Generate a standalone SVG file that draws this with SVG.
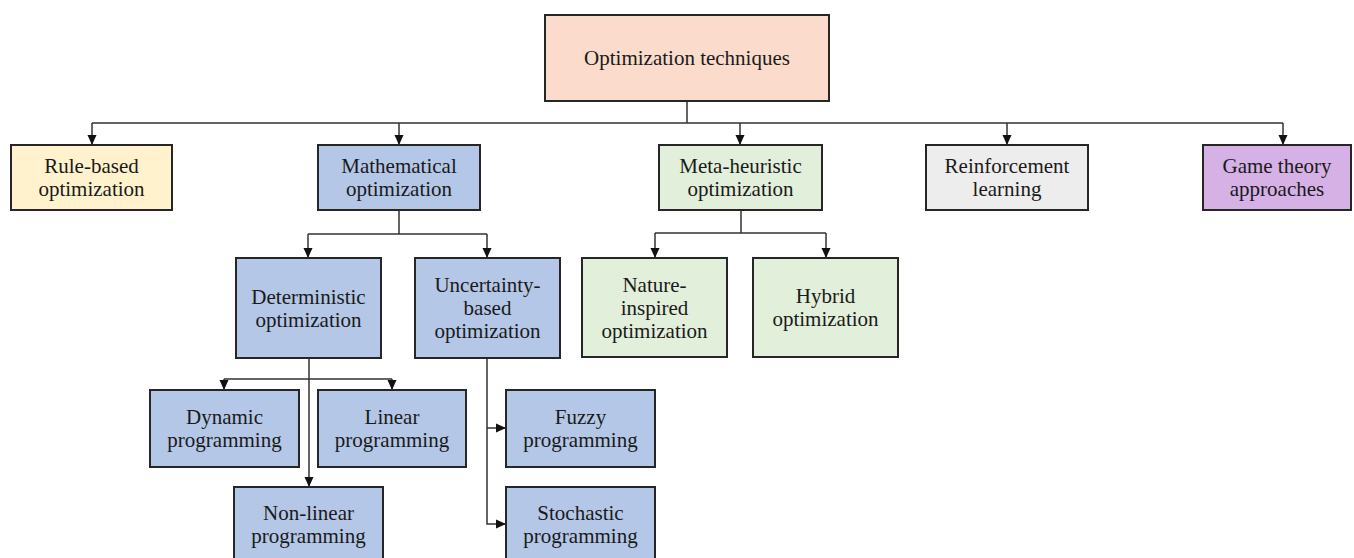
<svg xmlns="http://www.w3.org/2000/svg" width="1354" height="558" viewBox="0 0 1354 558">
<defs>
<style>
.b{stroke:#262626;stroke-width:2}
.t{font-family:"Liberation Serif","DejaVu Serif",serif;font-size:21px;fill:#1a1a1a;text-anchor:middle}
.c{fill:none;stroke:#333;stroke-width:1.5}
.pe{fill:#fbdccc}.ye{fill:#fff2cc}.bl{fill:#b4c7e7}.gr{fill:#e2efda}.gy{fill:#ededed}.pu{fill:#d5b1e6}
</style>
<marker id="a" markerUnits="userSpaceOnUse" markerWidth="10" markerHeight="10" viewBox="0 0 10 10" refX="10" refY="5" orient="auto"><path d="M0,0.5 L10,5 L0,9.5 Z" fill="#111"/></marker>
</defs>
<rect width="1354" height="558" fill="#fff"/>
<g id="connectors" class="c">
<path d="M687,101 V123 M92,123 H1283 M399,210 V234 M308,234 H487 M741,210 V233 M655,233 H826 M224,379 H392 M487,358 V428"/>
<path d="M92,123 V145" marker-end="url(#a)"/>
<path d="M399,123 V145" marker-end="url(#a)"/>
<path d="M740,123 V145" marker-end="url(#a)"/>
<path d="M1007,123 V145" marker-end="url(#a)"/>
<path d="M1283,123 V145" marker-end="url(#a)"/>
<path d="M308,234 V258" marker-end="url(#a)"/>
<path d="M487,234 V258" marker-end="url(#a)"/>
<path d="M655,233 V258" marker-end="url(#a)"/>
<path d="M826,233 V258" marker-end="url(#a)"/>
<path d="M309,358 V487" marker-end="url(#a)"/>
<path d="M224,379 V390" marker-end="url(#a)"/>
<path d="M392,379 V390" marker-end="url(#a)"/>
<path d="M487,428 H506" marker-end="url(#a)"/>
<path d="M487,428 V524 H506" marker-end="url(#a)"/>
</g>
<g id="root"><rect class="b pe" x="545" y="15" width="284" height="86"/><text class="t" x="687" y="65">Optimization techniques</text></g>
<g id="rule"><rect class="b ye" x="11" y="145" width="161" height="65"/><text class="t" x="91.5" y="173">Rule-based</text><text class="t" x="91.5" y="196">optimization</text></g>
<g id="math"><rect class="b bl" x="318" y="145" width="162" height="65"/><text class="t" x="399" y="173">Mathematical</text><text class="t" x="399" y="196">optimization</text></g>
<g id="meta"><rect class="b gr" x="659" y="145" width="163" height="65"/><text class="t" x="740.5" y="173">Meta-heuristic</text><text class="t" x="740.5" y="196">optimization</text></g>
<g id="reinf"><rect class="b gy" x="926" y="145" width="162" height="65"/><text class="t" x="1007" y="173">Reinforcement</text><text class="t" x="1007" y="196">learning</text></g>
<g id="game"><rect class="b pu" x="1203" y="145" width="148" height="65"/><text class="t" x="1277" y="173">Game theory</text><text class="t" x="1277" y="196">approaches</text></g>
<g id="det"><rect class="b bl" x="236" y="258" width="145" height="100"/><text class="t" x="308.5" y="303.5">Deterministic</text><text class="t" x="308.5" y="326.5">optimization</text></g>
<g id="unc"><rect class="b bl" x="415" y="258" width="145" height="100"/><text class="t" x="487.5" y="292">Uncertainty-</text><text class="t" x="487.5" y="315">based</text><text class="t" x="487.5" y="338">optimization</text></g>
<g id="nature"><rect class="b gr" x="582" y="258" width="145" height="99"/><text class="t" x="654.5" y="291.5">Nature-</text><text class="t" x="654.5" y="314.5">inspired</text><text class="t" x="654.5" y="337.5">optimization</text></g>
<g id="hybrid"><rect class="b gr" x="753" y="258" width="145" height="99"/><text class="t" x="825.5" y="303">Hybrid</text><text class="t" x="825.5" y="326">optimization</text></g>
<g id="dyn"><rect class="b bl" x="150" y="390" width="149" height="77"/><text class="t" x="224.5" y="424">Dynamic</text><text class="t" x="224.5" y="447">programming</text></g>
<g id="lin"><rect class="b bl" x="318" y="390" width="148" height="77"/><text class="t" x="392" y="424">Linear</text><text class="t" x="392" y="447">programming</text></g>
<g id="fuzzy"><rect class="b bl" x="506" y="390" width="149" height="77"/><text class="t" x="580.5" y="424">Fuzzy</text><text class="t" x="580.5" y="447">programming</text></g>
<g id="nonlin"><rect class="b bl" x="234" y="487" width="149" height="80"/><text class="t" x="308.5" y="520">Non-linear</text><text class="t" x="308.5" y="543">programming</text></g>
<g id="stoch"><rect class="b bl" x="506" y="487" width="149" height="80"/><text class="t" x="580.5" y="520">Stochastic</text><text class="t" x="580.5" y="543">programming</text></g>
</svg>
